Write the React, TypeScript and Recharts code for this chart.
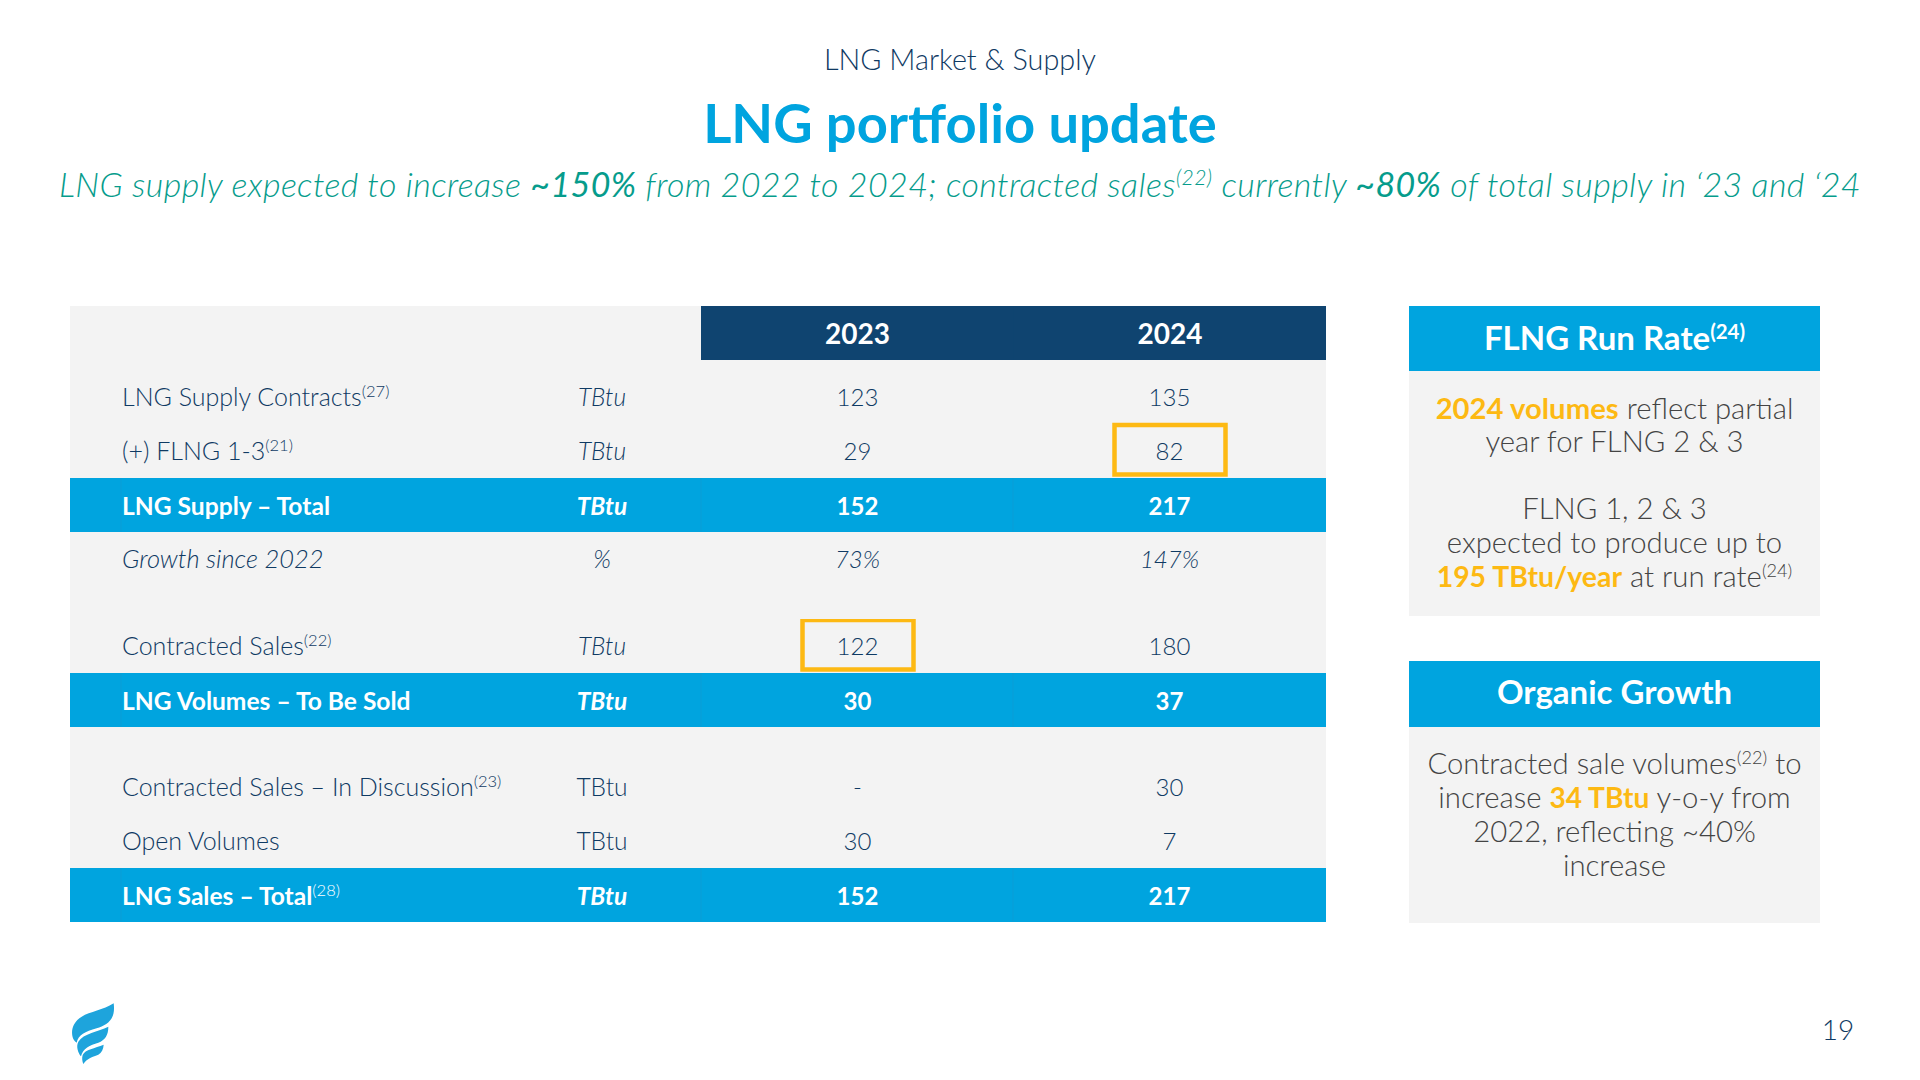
import { Bar, BarChart, Cell, LabelList, XAxis, YAxis } from "recharts";

const FONT = "Lato, sans-serif";
const NAVY = "#0f4470";
const INK = "#0f3a63";
const BLUE = "#00a4df";
const GOLD = "#fdb913";
const GREY = "#f3f3f3";
const BODY = "#444444";

const years = ["2023", "2024"];

// one list per column, same order as the table rows
const rowLabels = [
  "LNG Supply Contracts",
  "(+) FLNG 1-3",
  "LNG Supply – Total",
  "Growth since 2022",
  "Contracted Sales",
  "LNG Volumes – To Be Sold",
  "Contracted Sales – In Discussion",
  "Open Volumes",
  "LNG Sales – Total",
];
const rowNotes = ["27", "21", "", "", "22", "", "23", "", "28"];
const rowUnits = ["TBtu", "TBtu", "TBtu", "%", "TBtu", "TBtu", "TBtu", "TBtu", "TBtu"];
const values2023 = ["123", "29", "152", "73%", "122", "30", "-", "30", "152"];
const values2024 = ["135", "82", "217", "147%", "180", "37", "30", "7", "217"];
const totalRows = ["LNG Supply – Total", "LNG Volumes – To Be Sold", "LNG Sales – Total"];
const italicRows = ["Growth since 2022"];
const italicUnitRows = ["LNG Supply Contracts", "(+) FLNG 1-3", "LNG Supply – Total", "Growth since 2022", "Contracted Sales", "LNG Volumes – To Be Sold", "LNG Sales – Total"];
const boxed2023 = ["Contracted Sales"];
const boxed2024 = ["(+) FLNG 1-3"];

const tableRows = rowLabels.map((label, i) => ({
  label,
  note: rowNotes[i],
  unit: rowUnits[i],
  y2023: values2023[i],
  y2024: values2024[i],
  band: 1,
}));
const sections = [tableRows.slice(0, 4), tableRows.slice(4, 6), tableRows.slice(6)];

const TABLE_LEFT = 70;
const TABLE_WIDTH = 1256;
const ROW_H = 54;
const COL_LABEL = 52;
const COL_UNIT = 532;
const COL_2023 = 787.5;
const COL_2024 = 1099.5;

type Row = (typeof tableRows)[number];

function cellRenderer(rows: Row[], column: "label" | "unit" | "y2023" | "y2024") {
  return function CellText(props: any) {
    const box = props.viewBox ?? props;
    const row = rows[props.index];
    const total = totalRows.includes(row.label);
    const cy = box.y + box.height / 2 + (total ? 9.5 : 8.5);
    const fill = total ? "#ffffff" : INK;
    const weight = total ? 700 : 300;
    if (column === "label") {
      const italic = italicRows.includes(row.label);
      return (
        <g>
          {total
            ? [51, 631, 943].map((dx) => (
                <line key={dx} x1={box.x + dx} x2={box.x + dx} y1={box.y} y2={box.y + box.height} stroke="#0a9dd6" />
              ))
            : null}
          <text x={box.x + COL_LABEL} y={cy} fontFamily={FONT} fontSize={italic ? 25.5 : total ? 24.6 : 25} fill={fill} fontWeight={weight}
            fontStyle={italic ? "italic" : "normal"}>
            {row.label}
            {row.note ? <tspan dy={-9} fontSize={16.5} fontWeight={300}>{`(${row.note})`}</tspan> : null}
          </text>
        </g>
      );
    }
    if (column === "unit") {
      return (
        <text x={box.x + COL_UNIT} y={cy} textAnchor="middle" fontFamily={FONT} fontSize={24.5} fill={fill} fontWeight={weight}
          fontStyle={italicUnitRows.includes(row.label) ? "italic" : "normal"}>
          {row.unit}
        </text>
      );
    }
    const cx = box.x + (column === "y2023" ? COL_2023 : COL_2024);
    const boxed = (column === "y2023" ? boxed2023 : boxed2024).includes(row.label);
    return (
      <g>
        {boxed ? (
          <rect x={cx - 55} y={box.y + 1} width={111} height={ROW_H - 4.5} fill="none" stroke={GOLD} strokeWidth={4.5} />
        ) : null}
        <text x={cx} y={cy} textAnchor="middle" fontFamily={FONT} fontSize={24} fill={fill} fontWeight={weight}
          fontStyle={italicRows.includes(row.label) ? "italic" : "normal"}>
          {row[column]}
        </text>
      </g>
    );
  };
}

function TableSection({ rows, top }: { rows: Row[]; top: number }) {
  return (
    <div style={{ position: "absolute", left: TABLE_LEFT, top }}>
      <BarChart
        width={TABLE_WIDTH}
        height={rows.length * ROW_H}
        data={rows}
        layout="vertical"
        margin={{ top: 0, right: 0, bottom: 0, left: 0 }}
        barCategoryGap={0}
      >
        <XAxis type="number" hide domain={[0, 1]} />
        <YAxis type="category" dataKey="label" hide />
        <Bar dataKey="band" isAnimationActive={false}>
          {rows.map((r) => (
            <Cell key={r.label} fill={totalRows.includes(r.label) ? BLUE : "transparent"} />
          ))}
          <LabelList dataKey="label" content={cellRenderer(rows, "label")} />
          <LabelList dataKey="unit" content={cellRenderer(rows, "unit")} />
          <LabelList dataKey="y2023" content={cellRenderer(rows, "y2023")} />
          <LabelList dataKey="y2024" content={cellRenderer(rows, "y2024")} />
        </Bar>
      </BarChart>
    </div>
  );
}

function YearHeader() {
  const data = years.map((year) => ({ year, band: 1 }));
  return (
    <div style={{ position: "absolute", left: 701, top: 306 }}>
      <BarChart width={625} height={ROW_H} data={data} margin={{ top: 0, right: 0, bottom: 0, left: 0 }} barCategoryGap={0}>
        <XAxis dataKey="year" hide />
        <YAxis hide domain={[0, 1]} />
        <Bar dataKey="band" fill={NAVY} isAnimationActive={false}>
          <LabelList dataKey="year" position="center" dy={1.5} fill="#ffffff" fontFamily={FONT} fontSize={28} fontWeight={700} />
        </Bar>
      </BarChart>
    </div>
  );
}

function Sup({ children }: { children: string }) {
  return <span style={{ fontSize: "0.62em", verticalAlign: "0.55em", lineHeight: 0 }}>{children}</span>;
}

function Line({ y, left = 0, width = 1920, size, color, weight = 400, italic = false, spacing = 0, children }: any) {
  return (
    <div
      style={{
        position: "absolute",
        left,
        width,
        top: y - 30,
        height: 60,
        lineHeight: "60px",
        textAlign: "center",
        whiteSpace: "nowrap",
        fontFamily: FONT,
        fontSize: size,
        color,
        fontWeight: weight,
        fontStyle: italic ? "italic" : "normal",
        letterSpacing: spacing,
      }}
    >
      {children}
    </div>
  );
}

function Hl({ children, size = "1em" }: { children: string; size?: string }) {
  return <span style={{ color: GOLD, fontWeight: 700, fontSize: size }}>{children}</span>;
}

function SidePanel({ top, headH, bottom }: { top: number; headH: number; bottom: number }) {
  return (
    <>
      <div style={{ position: "absolute", left: 1409, top, width: 411, height: bottom - top, background: GREY }} />
      <div style={{ position: "absolute", left: 1409, top, width: 411, height: headH, background: BLUE }} />
    </>
  );
}

function Logo() {
  return (
    <svg style={{ position: "absolute", left: 40, top: 980 }} width={120} height={100} viewBox="0 0 360 300">
      <path fill="#1ea4dc" d="M221 70 C190 90 150 95 125 110 C100 125 92 150 98 172 C100 180 105 185 110 188 C115 165 135 155 170 145 C200 135 228 120 221 70 Z" />
      <path fill="#1ea4dc" d="M205 140 C175 155 130 160 115 185 C107 200 115 220 123 229 C128 205 150 195 175 188 C195 180 205 165 205 140 Z" />
      <path fill="#1ea4dc" d="M191 194 C165 205 135 208 128 225 C125 235 127 245 130 252 C140 235 160 230 175 224 C185 218 190 208 191 194 Z" />
    </svg>
  );
}

const P = { left: 1409, width: 411, size: 29.3, color: BODY, weight: 300 };

export default function App() {
  return (
    <div style={{ position: "absolute", left: 0, top: 0, width: 1920, height: 1080, background: "#ffffff", overflow: "hidden" }}>
      <Line y={59} size={28.8} color={INK} weight={300}>LNG Market &amp; Supply</Line>
      <Line y={122} size={54.3} color={BLUE} weight={700}>LNG portfolio update</Line>
      <Line y={184} size={34} color="#069c8c" italic weight={300} spacing={0.38}>
        LNG supply expected to increase <b>~150%</b> from 2022 to 2024; contracted sales<Sup>(22)</Sup> currently <b>~80%</b> of total supply in ‘23 and ‘24
      </Line>

      <div style={{ position: "absolute", left: TABLE_LEFT, top: 306, width: TABLE_WIDTH, height: 616, background: GREY }} />
      <YearHeader />
      <TableSection rows={sections[0]} top={370} />
      <TableSection rows={sections[1]} top={619} />
      <TableSection rows={sections[2]} top={760} />

      <SidePanel top={306} headH={65} bottom={616} />
      <SidePanel top={661} headH={66} bottom={923} />
      <Line y={337} left={1409} width={411} size={33} color="#ffffff" weight={700}>FLNG Run Rate<Sup>(24)</Sup></Line>
      <Line y={691} left={1409} width={411} size={33} color="#ffffff" weight={700}>Organic Growth</Line>

      <Line y={408} {...P}><Hl>2024 volumes</Hl> reflect partial</Line>
      <Line y={441} {...P}>year for FLNG 2 &amp; 3</Line>
      <Line y={508} {...P}>FLNG 1, 2 &amp; 3</Line>
      <Line y={542} {...P}>expected to produce up to</Line>
      <Line y={576} {...P}><Hl size="0.97em">195 TBtu/year</Hl> at run rate<Sup>(24)</Sup></Line>

      <Line y={763} {...P}>Contracted sale volumes<Sup>(22)</Sup> to</Line>
      <Line y={797} {...P}>increase <Hl size="0.96em">34 TBtu</Hl> y-o-y from</Line>
      <Line y={831} {...P}>2022, reflecting ~40%</Line>
      <Line y={865} {...P}>increase</Line>

      <Line y={1029} left={1808} width={60} size={28} color={INK} weight={300}>19</Line>
      <Logo />
    </div>
  );
}
